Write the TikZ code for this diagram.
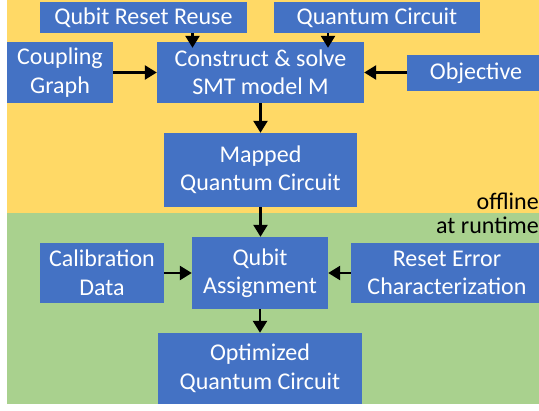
\documentclass[tikz,border=0pt]{standalone}
\usepackage{fontspec}
\setmainfont{Carlito}
\usetikzlibrary{arrows.meta}
\definecolor{boxblue}{HTML}{4472C4}
\definecolor{bgyellow}{HTML}{FFD966}
\definecolor{bggreen}{HTML}{A9D18E}
\tikzset{
  blk/.style={fill=boxblue, text=white, draw=none, inner sep=0pt, align=center,
    font=\fontsize{24}{28.5}\selectfont},
  arr/.style={-{Triangle[length=12pt,width=14pt]}, line width=2.5pt, black},
  lbl/.style={inner sep=0pt, anchor=east, font=\fontsize{24}{28}\selectfont}
}
\begin{document}
\begin{tikzpicture}[x=1pt,y=-1pt]
\useasboundingbox (0,0) rectangle (539,411);
\fill[bgyellow] (7,0) rectangle (539,213);
\fill[bggreen] (7,213) rectangle (539,404);
\begin{scope}
\clip (0,0) rectangle (539,411);
\node[blk, minimum width=207pt, minimum height=31pt] (qrr) at (143.5,17.5) {Qubit Reset Reuse};
\node[blk, minimum width=206pt, minimum height=31pt] (qc) at (377,17.5) {Quantum Circuit};
\node[blk, minimum width=106pt, minimum height=61pt] (cg) at (60,72.5) {Coupling\\Graph};
\node[blk, minimum width=207pt, minimum height=61pt] (csm) at (260.5,72.5) {Construct \& solve\\SMT model M};
\node[blk, minimum width=138pt, minimum height=36pt] (obj) at (476,73) {Objective};
\node[blk, minimum width=193pt, minimum height=74pt] (map) at (260.5,170) {Mapped\\Quantum Circuit};
\node[blk, minimum width=136pt, minimum height=72pt] (qa) at (260,273) {Qubit\\Assignment};
\node[blk, minimum width=124pt, minimum height=60pt] (cal) at (102,273) {Calibration\\Data};
\node[blk, minimum width=192pt, minimum height=60pt] (rec) at (447,273) {Reset Error\\Characterization};
\node[blk, minimum width=204pt, minimum height=71pt] (opt) at (260,368.5) {Optimized\\Quantum Circuit};
\end{scope}
\node[lbl] (off) at (539,201) {offline};
\node[lbl] (run) at (539,225) {at runtime};
\coordinate (xa) at (192.5,0);
\coordinate (xb) at (328,0);
\draw[arr, shorten >=-6pt] (qrr.south -| xa) -- (csm.north -| xa);
\draw[arr, shorten >=-6pt] (qc.south -| xb) -- (csm.north -| xb);
\draw[arr] (cg.east |- csm.west) -- (csm.west);
\draw[arr] (obj.west |- csm.east) -- (csm.east);
\draw[arr] (csm.south) -- (map.north -| csm.south);
\draw[arr] (map.south) -- (qa.north -| map.south);
\draw[arr] (cal.east) -- (qa.west);
\draw[arr] (rec.west) -- (qa.east);
\draw[arr] (qa.south) -- (opt.north -| qa.south);
\end{tikzpicture}
\end{document}
